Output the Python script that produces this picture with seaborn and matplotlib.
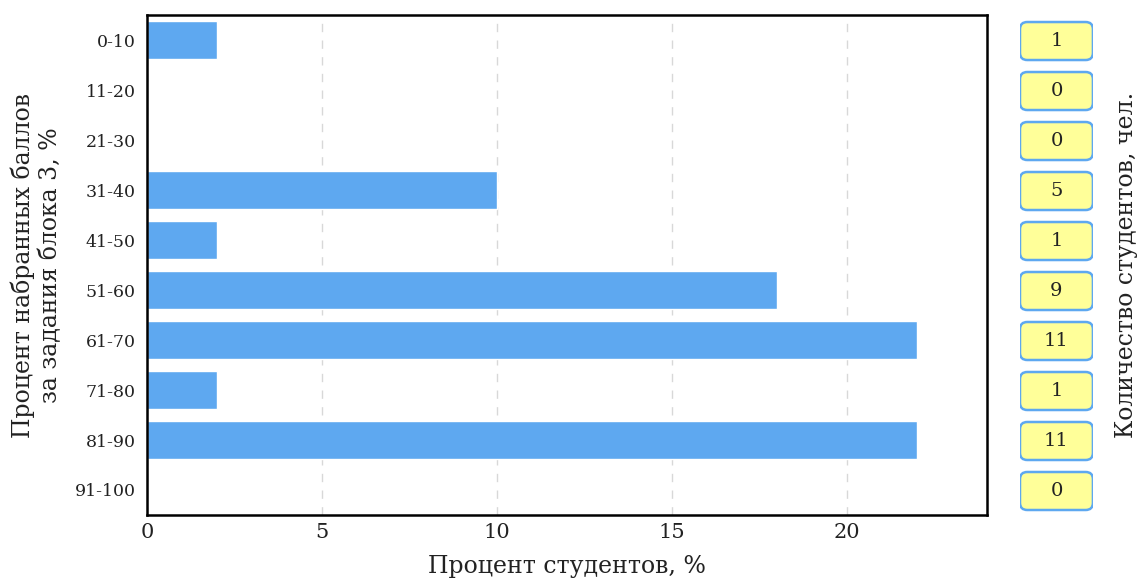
import pandas as pd
import seaborn as sns
import matplotlib.pyplot as plt
from matplotlib.patches import FancyBboxPatch

# data
score_bins = ['0-10', '11-20', '21-30', '31-40', '41-50',
              '51-60', '61-70', '71-80', '81-90', '91-100']
percent_students = [2, 0, 0, 10, 2, 18, 22, 2, 22, 0]
count_students = [1, 0, 0, 5, 1, 9, 11, 1, 11, 0]

df = pd.DataFrame({'bin': score_bins, 'pct': percent_students})

sns.set_theme(style='white')
plt.rcParams['font.family'] = ['DejaVu Serif', 'DejaVu Sans']
plt.rcParams['text.color'] = '#222222'
plt.rcParams['xtick.color'] = '#222222'
plt.rcParams['ytick.color'] = '#222222'
plt.rcParams['axes.labelcolor'] = '#222222'

fig = plt.figure(figsize=(11.38, 5.78), dpi=100)
ax = fig.add_axes([0.1292, 0.109, 0.7381, 0.865])

sns.barplot(data=df, x='pct', y='bin', order=score_bins, orient='h',
            color='#5ea8f0', saturation=1, width=0.76, ax=ax)

ax.set_xlim(0, 24)
ax.set_ylim(len(score_bins) - 0.5, -0.5)
ax.set_xticks([0, 5, 10, 15, 20])
ax.grid(axis='x', color='#d8d8d8', linestyle=(0, (6, 6)), linewidth=1)
ax.set_axisbelow(True)
for sp in ax.spines.values():
    sp.set_color('black')
    sp.set_linewidth(1.8)
ax.tick_params(axis='x', labelsize=15, length=0, pad=6)
ax.tick_params(axis='y', labelsize=12.5, length=0, pad=8)
ax.set_xlabel('Процент студентов, %', fontsize=17, labelpad=9)
ax.set_ylabel('Процент набранных баллов\nза задания блока 3, %', fontsize=17, labelpad=9)

# right column with counts
ax2 = fig.add_axes([0.8963, 0.109, 0.0641, 0.865])
ax2.set_xlim(0, 1)
ax2.set_ylim(len(score_bins) - 0.5, -0.5)
ax2.axis('off')
for i, n in enumerate(count_students):
    box = FancyBboxPatch((0.0, i - 0.36), 1.0, 0.76,
                         boxstyle='round,pad=0,rounding_size=0.1',
                         mutation_aspect=1.44,
                         facecolor='#ffff99', edgecolor='#5ea8f0', linewidth=1.8)
    ax2.add_patch(box)
    ax2.text(0.5, i + 0.02, str(n), ha='center', va='center', fontsize=14)

fig.text(1127 / 1138, 0.5415, 'Количество студентов, чел.', rotation=90,
         ha='center', va='center', fontsize=17)

plt.savefig('out.png', dpi=100)
